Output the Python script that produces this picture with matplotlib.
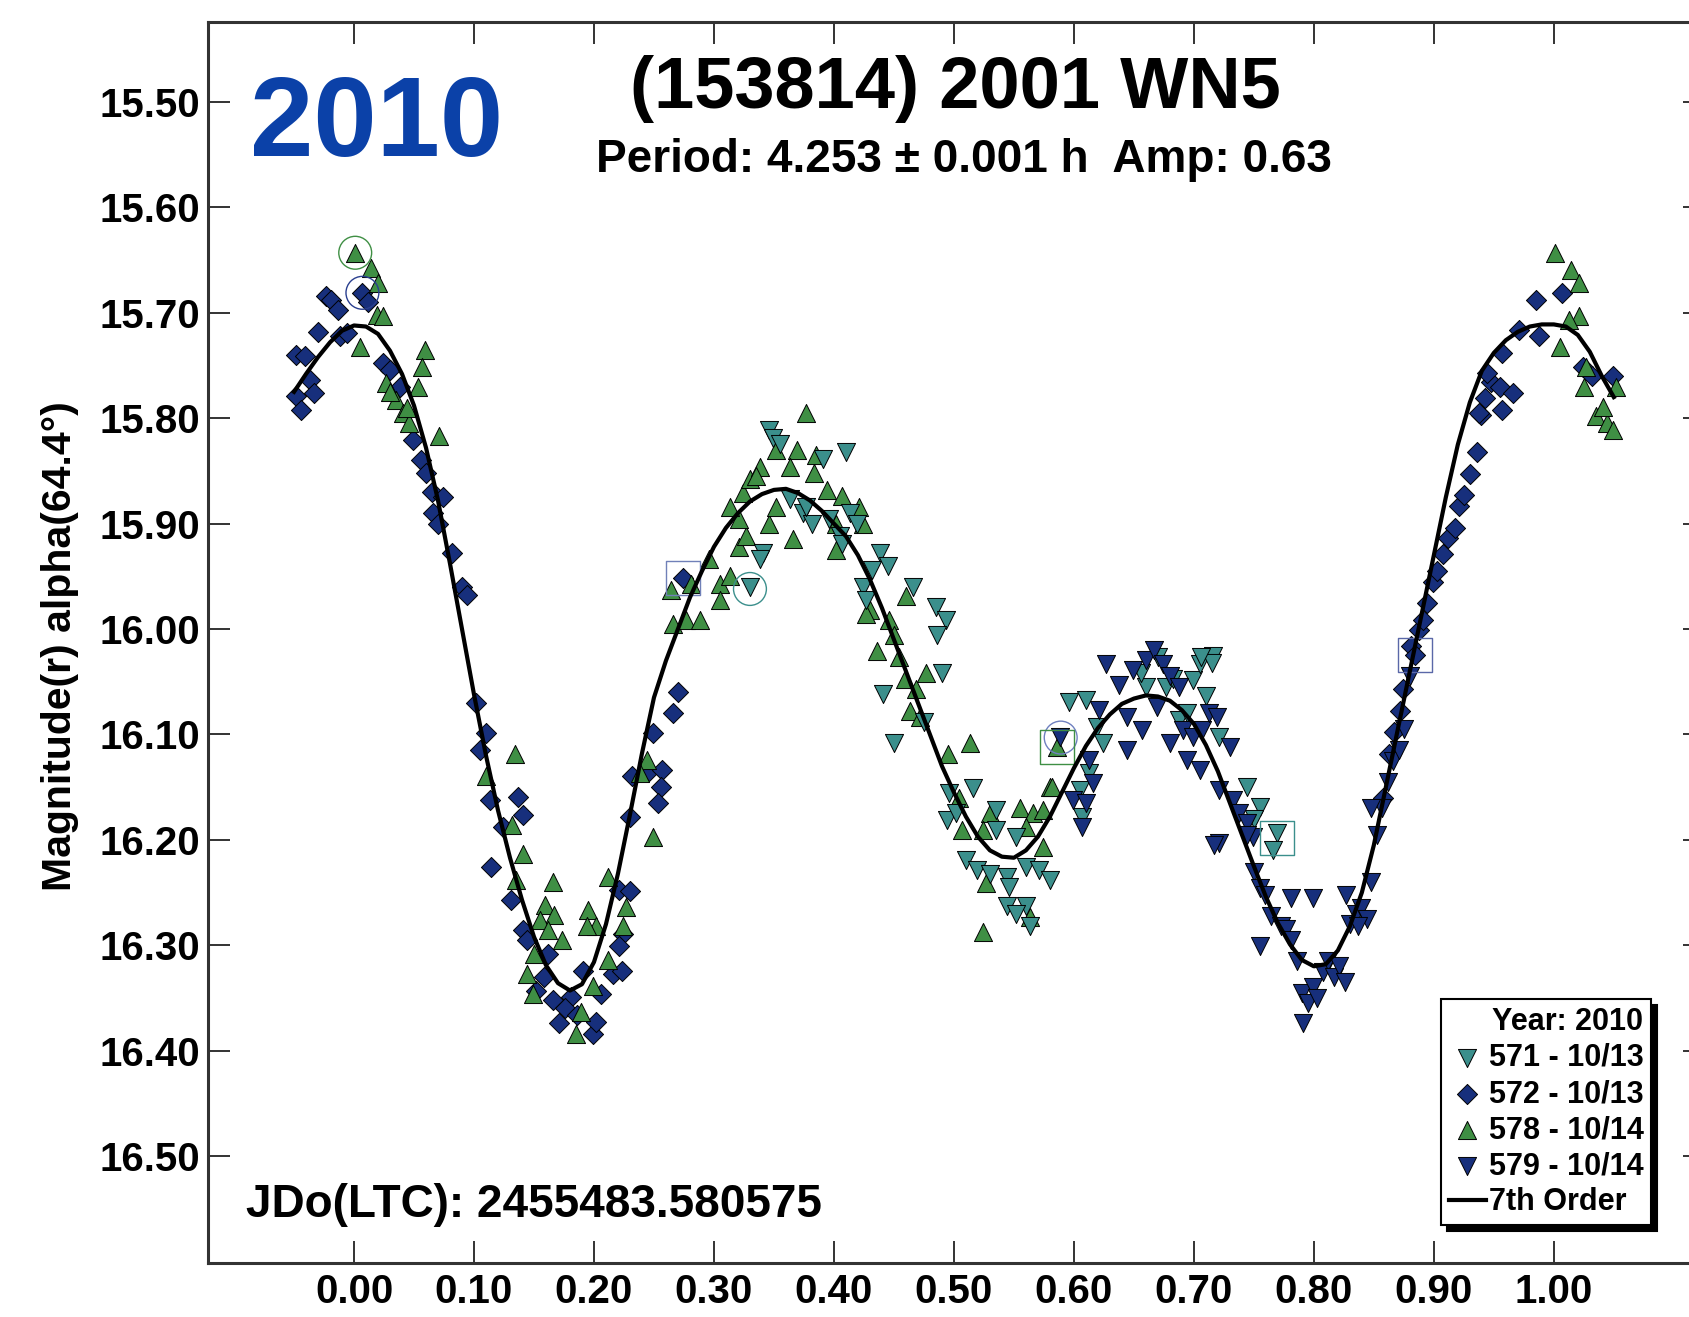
import matplotlib
matplotlib.use("Agg")
import matplotlib.pyplot as plt

plt.rcParams['font.family'] = ['Liberation Sans', 'DejaVu Sans']
plt.rcParams['font.weight'] = 'bold'

# session 571 - 10/13 (teal, down triangles)
s571_phase = [0.346, 0.349, 0.355, 0.410, 0.391, 0.363, 0.374, 0.382, 0.377, 0.396,
              0.413, 0.419, 0.341, 0.338, 0.330, 0.438, 0.432, 0.424, 0.466, 0.485,
              0.427, 0.405, 0.407, 0.441, 0.450, 0.475, 0.490, 0.493, 0.486, 0.445,
              0.496, 0.516, 0.494, 0.502, 0.535, 0.535, 0.552, 0.510, 0.519, 0.530,
              0.544, 0.560, 0.571, 0.580, 0.546, 0.544, 0.560, 0.563, 0.552, 0.607,
              0.605, 0.596, 0.610, 0.619, 0.660, 0.677, 0.699, 0.705, 0.716, 0.710,
              0.688, 0.721, 0.694, 0.624, 0.613, 0.744, 0.755, 0.769, 0.766, 0.656,
              0.670, 0.683, 0.715, 0.706, 0.750]
s571_mag = [15.811, 15.819, 15.824, 15.832, 15.839, 15.877, 15.890, 15.900, 15.884, 15.896,
            15.890, 15.900, 15.928, 15.934, 15.960, 15.928, 15.944, 15.960, 15.960, 15.979,
            15.972, 15.912, 15.919, 16.062, 16.108, 16.088, 16.042, 15.991, 16.006, 15.940,
            16.156, 16.151, 16.181, 16.175, 16.172, 16.191, 16.197, 16.219, 16.229, 16.232,
            16.235, 16.226, 16.229, 16.238, 16.245, 16.263, 16.263, 16.282, 16.270, 16.178,
            16.153, 16.069, 16.067, 16.093, 16.055, 16.055, 16.048, 16.033, 16.026, 16.064,
            16.086, 16.102, 16.080, 16.108, 16.137, 16.150, 16.169, 16.194, 16.210, 16.042,
            16.027, 16.047, 16.032, 16.027, 16.180]

# session 572 - 10/13 (navy, diamonds)
s572_phase = [-0.048, -0.041, -0.037, -0.033, -0.048, -0.044, -0.030, -0.023, -0.019, -0.013,
              -0.012, -0.006, 0.007, 0.012, 0.024, 0.030, 0.038, 0.049, 0.056, 0.060,
              0.065, 0.066, 0.070, 0.074, 0.082, 0.090, 0.094,
              0.102, 0.110, 0.105, 0.113, 0.137, 0.141, 0.124, 0.114, 0.131, 0.141,
              0.144, 0.162, 0.152, 0.166, 0.171, 0.181, 0.191, 0.199, 0.202, 0.206,
              0.216, 0.223, 0.224, 0.221, 0.230, 0.230, 0.246, 0.257, 0.256, 0.253,
              0.232, 0.249, 0.266, 0.221, 0.176, 0.186, 0.158, 0.270, 0.274,
              0.858, 0.863, 0.867, 0.872, 0.874, 0.881, 0.884, 0.888, 0.891, 0.894,
              0.899, 0.903, 0.908, 0.912, 0.918, 0.921, 0.925, 0.930, 0.936, 0.939,
              0.943, 0.948, 0.985, 1.007, 0.971, 0.957, 0.944, 0.955, 0.966, 0.957,
              0.938, 0.988, 1.024, 1.049, 1.032]
s572_mag = [15.740, 15.741, 15.764, 15.776, 15.779, 15.792, 15.718, 15.684, 15.688, 15.697,
            15.722, 15.719, 15.681, 15.690, 15.748, 15.754, 15.770, 15.821, 15.840, 15.852,
            15.870, 15.890, 15.900, 15.875, 15.928, 15.960, 15.968,
            16.070, 16.099, 16.115, 16.162, 16.159, 16.176, 16.188, 16.226, 16.257, 16.286,
            16.295, 16.308, 16.343, 16.352, 16.374, 16.349, 16.324, 16.384, 16.373, 16.346,
            16.327, 16.324, 16.289, 16.248, 16.249, 16.178, 16.135, 16.134, 16.150, 16.165,
            16.139, 16.099, 16.080, 16.301, 16.360, 16.366, 16.330, 16.060, 15.952,
            16.160, 16.119, 16.098, 16.078, 16.057, 16.016, 16.025, 16.001, 15.991, 15.975,
            15.955, 15.945, 15.929, 15.914, 15.904, 15.883, 15.873, 15.853, 15.832, 15.797,
            15.781, 15.766, 15.688, 15.681, 15.716, 15.738, 15.757, 15.770, 15.776, 15.792,
            15.795, 15.722, 15.751, 15.760, 15.760]

# session 578 - 10/14 (green, up triangles)
s578_phase = [0.001, 0.014, 0.020, 0.019, 0.024, 0.005, 0.027, 0.035, 0.041, 0.046,
              0.053, 0.059, 0.057, 0.071, 0.030, 0.044,
              0.134, 0.110, 0.132, 0.141, 0.135, 0.166, 0.159, 0.167, 0.155, 0.162,
              0.173, 0.195, 0.202, 0.194, 0.212, 0.227, 0.224, 0.212, 0.199, 0.189,
              0.185, 0.149, 0.144, 0.150, 0.244, 0.238, 0.249,
              0.266, 0.277, 0.288, 0.264, 0.281, 0.296, 0.305, 0.305, 0.321, 0.327,
              0.321, 0.313, 0.324, 0.330, 0.338, 0.346, 0.352, 0.352, 0.369, 0.377,
              0.385, 0.363, 0.383, 0.366, 0.394, 0.407, 0.402, 0.402, 0.421, 0.424,
              0.430, 0.460, 0.446, 0.335, 0.313,
              0.450, 0.454, 0.459, 0.463, 0.468, 0.472, 0.477, 0.436, 0.427, 0.495,
              0.504, 0.513, 0.530, 0.555, 0.566, 0.574, 0.580, 0.560, 0.507, 0.524,
              0.527, 0.563, 0.524, 0.574, 0.582, 0.586,
              1.001, 1.014, 1.021, 1.021, 1.013, 1.005, 1.027, 1.025, 1.052, 1.035,
              1.044, 1.049, 1.041]
s578_mag = [15.643, 15.657, 15.672, 15.702, 15.703, 15.732, 15.767, 15.783, 15.795, 15.805,
            15.770, 15.735, 15.751, 15.817, 15.775, 15.790,
            16.119, 16.139, 16.186, 16.213, 16.238, 16.240, 16.262, 16.271, 16.276, 16.286,
            16.295, 16.267, 16.282, 16.282, 16.235, 16.264, 16.282, 16.314, 16.339, 16.363,
            16.384, 16.346, 16.327, 16.308, 16.124, 16.137, 16.197,
            15.995, 15.991, 15.991, 15.963, 15.957, 15.934, 15.957, 15.972, 15.922, 15.912,
            15.896, 15.884, 15.871, 15.858, 15.846, 15.900, 15.884, 15.830, 15.830, 15.795,
            15.835, 15.846, 15.852, 15.915, 15.868, 15.874, 15.900, 15.925, 15.884, 15.900,
            15.982, 15.969, 15.991, 15.855, 15.950,
            16.006, 16.027, 16.047, 16.078, 16.057, 16.083, 16.042, 16.021, 15.986, 16.119,
            16.160, 16.108, 16.175, 16.170, 16.175, 16.172, 16.150, 16.188, 16.191, 16.191,
            16.241, 16.273, 16.287, 16.207, 16.150, 16.112,
            15.643, 15.659, 15.672, 15.703, 15.707, 15.732, 15.751, 15.770, 15.770, 15.798,
            15.805, 15.811, 15.789]

# session 579 - 10/14 (navy, down triangles)
s579_phase = [0.627, 0.638, 0.649, 0.660, 0.667, 0.674, 0.680, 0.688, 0.621, 0.644,
              0.657, 0.669, 0.680, 0.691, 0.699, 0.707, 0.713, 0.719, 0.730, 0.694,
              0.705, 0.644, 0.613, 0.616, 0.599, 0.607, 0.721, 0.733, 0.738, 0.744,
              0.721, 0.749, 0.588, 0.755, 0.610, 0.717, 0.744, 0.750, 0.755, 0.759,
              0.764, 0.773,
              0.777, 0.781, 0.786, 0.790, 0.795, 0.791, 0.799, 0.803, 0.808, 0.812,
              0.817, 0.821, 0.826, 0.830, 0.835, 0.839, 0.844, 0.848, 0.853, 0.857,
              0.862, 0.866, 0.871, 0.875, 0.848, 0.799, 0.781, 0.880, 0.827, 0.837]
s579_mag = [16.033, 16.053, 16.039, 16.029, 16.020, 16.033, 16.045, 16.055, 16.077, 16.083,
            16.096, 16.074, 16.108, 16.096, 16.102, 16.096, 16.080, 16.083, 16.112, 16.124,
            16.134, 16.115, 16.124, 16.146, 16.162, 16.188, 16.153, 16.162, 16.175, 16.184,
            16.203, 16.197, 16.102, 16.301, 16.165, 16.205, 16.195, 16.231, 16.246, 16.252,
            16.272, 16.282,
            16.285, 16.295, 16.315, 16.345, 16.355, 16.374, 16.340, 16.350, 16.325, 16.315,
            16.330, 16.320, 16.335, 16.280, 16.270, 16.265, 16.275, 16.240, 16.195, 16.170,
            16.145, 16.125, 16.115, 16.095, 16.170, 16.255, 16.255, 16.045, 16.252, 16.282]

# 7th order Fourier fit
fit_phase = [-0.05, -0.04, -0.03, -0.02, -0.01, 0.00, 0.01, 0.02, 0.03, 0.04,
             0.05, 0.06, 0.07, 0.08, 0.09, 0.10, 0.11, 0.12, 0.13, 0.14,
             0.15, 0.16, 0.17, 0.18, 0.19, 0.20, 0.21, 0.22, 0.23, 0.24,
             0.25, 0.26, 0.27, 0.28, 0.29, 0.30, 0.31, 0.32, 0.33, 0.34,
             0.35, 0.36, 0.37, 0.38, 0.39, 0.40, 0.41, 0.42, 0.43, 0.44,
             0.45, 0.46, 0.47, 0.48, 0.49, 0.50, 0.51, 0.52, 0.53, 0.54,
             0.55, 0.56, 0.57, 0.58, 0.59, 0.60, 0.61, 0.62, 0.63, 0.64,
             0.65, 0.66, 0.67, 0.68, 0.69, 0.70, 0.71, 0.72, 0.73, 0.74,
             0.75, 0.76, 0.77, 0.78, 0.79, 0.80, 0.81, 0.82, 0.83, 0.84,
             0.85, 0.86, 0.87, 0.88, 0.89, 0.90, 0.91, 0.92, 0.93, 0.94,
             0.95, 0.96, 0.97, 0.98, 0.99, 1.00, 1.01, 1.02, 1.03, 1.04, 1.05]
fit_mag = [15.775, 15.758, 15.742, 15.728, 15.717, 15.712, 15.713, 15.720, 15.736, 15.758,
           15.788, 15.828, 15.878, 15.938, 16.000, 16.062, 16.120, 16.172, 16.217, 16.257,
           16.292, 16.319, 16.336, 16.343, 16.337, 16.316, 16.280, 16.232, 16.176, 16.118,
           16.065, 16.030, 16.000, 15.970, 15.945, 15.922, 15.904, 15.890, 15.879, 15.872,
           15.868, 15.867, 15.871, 15.878, 15.888, 15.900, 15.912, 15.930, 15.953, 15.980,
           16.010, 16.040, 16.070, 16.100, 16.130, 16.155, 16.178, 16.197, 16.210, 16.216,
           16.217, 16.210, 16.197, 16.178, 16.155, 16.132, 16.111, 16.094, 16.081, 16.071,
           16.066, 16.063, 16.064, 16.068, 16.077, 16.090, 16.110, 16.135, 16.165, 16.195,
           16.225, 16.254, 16.279, 16.299, 16.314, 16.320, 16.318, 16.305, 16.282, 16.250,
           16.205, 16.150, 16.095, 16.040, 15.985, 15.930, 15.875, 15.825, 15.785, 15.755,
           15.738, 15.726, 15.718, 15.713, 15.711, 15.711, 15.713, 15.721, 15.737, 15.760, 15.780]

# highlighted first points of sessions
circ_phase = [0.001, 0.007, 0.330, 0.589]
circ_mag = [15.643, 15.681, 15.962, 16.103]
circ_color = ['#3f8f44', '#2a3f8f', '#3b8f8c', '#6f80c0']
sq_phase = [0.274, 0.586, 0.769, 0.884]
sq_mag = [15.952, 16.112, 16.198, 16.025]
sq_color = ['#7080b8', '#3f8f44', '#3b8f8c', '#5a68a8']

yticks = [15.5, 15.6, 15.7, 15.8, 15.9, 16.0, 16.1, 16.2, 16.3, 16.4, 16.5]
xticks = [0.0, 0.1, 0.2, 0.3, 0.4, 0.5, 0.6, 0.7, 0.8, 0.9, 1.0]

teal = '#3b8f8c'
navy = '#172f7c'
green = '#3f8f44'

fig = plt.figure(figsize=(16.89, 13.17), dpi=100)
ax = fig.add_axes([208 / 1689, 54 / 1317, 1497 / 1689, 1241.5 / 1317])

h572 = ax.scatter(s572_phase, s572_mag, marker='D', s=105, c=navy, edgecolors='black',
                  linewidths=0.7, label='572 - 10/13', zorder=3)
h578 = ax.scatter(s578_phase, s578_mag, marker='^', s=170, c=green, edgecolors='black',
                  linewidths=0.7, label='578 - 10/14', zorder=3)
h571 = ax.scatter(s571_phase, s571_mag, marker='v', s=170, c=teal, edgecolors='black',
                  linewidths=0.7, label='571 - 10/13', zorder=3)
h579 = ax.scatter(s579_phase, s579_mag, marker='v', s=170, c=navy, edgecolors='black',
                  linewidths=0.7, label='579 - 10/14', zorder=3)
ax.scatter(circ_phase, circ_mag, marker='o', s=560, facecolors='none', edgecolors=circ_color,
           linewidths=1.0, zorder=4)
ax.scatter(sq_phase, sq_mag, marker='s', s=600, facecolors='none', edgecolors=sq_color,
           linewidths=1.0, zorder=4)
fit_line, = ax.plot(fit_phase, fit_mag, color='black', lw=3, label='7th Order', zorder=5)

ax.set_xlim(-0.1217, 1.126)
ax.set_ylim(16.6015, 15.4236)
ax.set_xticks(xticks)
ax.set_xticklabels(['%.2f' % v for v in xticks])
ax.set_yticks(yticks)
ax.set_yticklabels(['%.2f' % v for v in yticks])
ax.tick_params(axis='both', direction='in', length=16, width=1.4, color='#333333',
               labelsize=29, top=True, right=True)
ax.tick_params(axis='x', pad=7)
ax.tick_params(axis='y', pad=6)
for sp in ax.spines.values():
    sp.set_linewidth(2.2)
    sp.set_color('#333333')

ax.set_ylabel('Magnitude(r) alpha(64.4°)', fontsize=29.5, fontweight='bold')
ax.yaxis.set_label_coords(-0.086, 0.497)

ax.text(0.028, 0.8917, '2010', transform=ax.transAxes, fontsize=82, color='#0b41a8',
        fontweight='bold', ha='left', va='baseline')
ax.text(0.499, 0.9303, '(153814) 2001 WN5', transform=ax.transAxes, fontsize=52,
        fontweight='bold', ha='center', va='baseline')
ax.text(0.505, 0.8788, 'Period: 4.253 ± 0.001 h  Amp: 0.63', transform=ax.transAxes,
        fontsize=33, fontweight='bold', ha='center', va='baseline')
ax.text(0.0254, 0.037, 'JDo(LTC): 2455483.580575', transform=ax.transAxes, fontsize=33,
        fontweight='bold', ha='left', va='baseline')

leg = ax.legend(handles=[h571, h572, h578, h579, fit_line], title='Year: 2010',
                loc='lower right', bbox_to_anchor=(0.964, 0.0306), borderaxespad=0,
                fontsize=22, title_fontproperties={'weight': 'bold', 'size': 22},
                alignment='right', scatterpoints=1, handlelength=1.2, handletextpad=0.1,
                labelspacing=0.2, borderpad=0.25, fancybox=False, framealpha=1,
                edgecolor='black', shadow={'ox': 4, 'oy': -4, 'color': 'black', 'alpha': 1})
leg.get_frame().set_linewidth(1.5)

fig.savefig('out.png', dpi=100)
